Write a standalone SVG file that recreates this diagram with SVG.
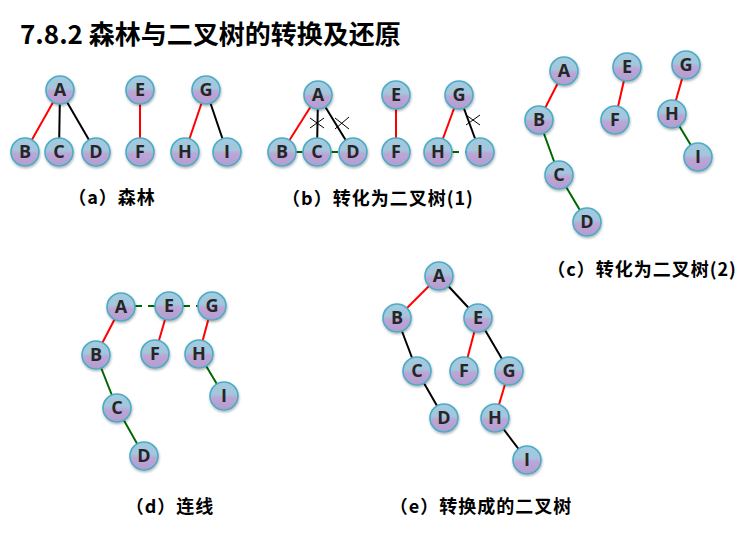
<svg xmlns="http://www.w3.org/2000/svg" width="740" height="533" viewBox="0 0 740 533">
<defs>
<linearGradient id="nf" x1="0" y1="0" x2="0" y2="1">
<stop offset="0" stop-color="#a3cbe0"/>
<stop offset="0.44" stop-color="#a3c6dc"/>
<stop offset="0.56" stop-color="#bca6d6"/>
<stop offset="1" stop-color="#b29dcf"/>
</linearGradient>
<filter id="sh" x="-30%" y="-30%" width="160%" height="170%">
<feDropShadow dx="0.5" dy="1.5" stdDeviation="1.2" flood-color="#000" flood-opacity="0.3"/>
</filter>
</defs>
<style>
.node circle{fill:url(#nf);stroke:#4bacc6;stroke-width:1.6;filter:url(#sh)}
.node text{font-family:"Open Sans","Liberation Sans",sans-serif;font-weight:bold;font-size:18px;fill:#262626;text-anchor:middle}
.r{stroke:#ff0000;stroke-width:2;fill:none}
.k{stroke:#000;stroke-width:2;fill:none}
.g{stroke:#006600;stroke-width:2;fill:none}
.gd{stroke:#006600;stroke-width:2;fill:none;stroke-dasharray:7 6}
.x{stroke:#000;stroke-width:1;fill:none}
.t{font-family:"Noto Sans CJK SC","Liberation Sans",sans-serif;font-weight:bold;fill:#000}
.lab{font-family:"Noto Sans CJK SC","Liberation Sans",sans-serif;font-weight:bold;font-size:18px;letter-spacing:1px;fill:#000;text-anchor:middle}
</style>
<rect width="740" height="533" fill="#fff"/>
<text class="t" x="20" y="44" font-size="26">7.8.2 森林与二叉树的转换及还原</text>
<g id="connectors">
<!-- (a) -->
<line class="r" x1="60" y1="90" x2="25" y2="152"/>
<line class="k" x1="60" y1="90" x2="59" y2="152"/>
<line class="k" x1="60" y1="90" x2="96" y2="152"/>
<line class="r" x1="140" y1="90" x2="140" y2="152"/>
<line class="r" x1="206" y1="90" x2="185" y2="152"/>
<line class="k" x1="206" y1="90" x2="227" y2="152"/>
<!-- (b) -->
<line class="r" x1="318" y1="95" x2="282" y2="152"/>
<line class="k" x1="318" y1="95" x2="317" y2="152"/>
<line class="k" x1="318" y1="95" x2="353" y2="152"/>
<line class="gd" x1="296" y1="152" x2="303" y2="152" stroke-dasharray="3 3"/>
<line class="gd" x1="331" y1="152" x2="339" y2="152"/>
<line class="r" x1="396" y1="95" x2="396" y2="152"/>
<line class="r" x1="459" y1="95" x2="438" y2="152"/>
<line class="k" x1="459" y1="95" x2="480" y2="152"/>
<line class="gd" x1="452" y1="152" x2="466" y2="152" stroke-dasharray="6 4"/>
<path class="x" d="M310 118 L324 128 M310 128 L324 118"/>
<path class="x" d="M335 118 L349 129 M335 129 L349 117"/>
<path class="x" d="M466 115 L480 125 M466 125 L480 115"/>
<!-- (c) -->
<line class="r" x1="564" y1="71" x2="539" y2="120"/>
<line class="g" x1="539" y1="120" x2="559" y2="175"/>
<line class="g" x1="559" y1="175" x2="587" y2="222"/>
<line class="r" x1="627" y1="67" x2="615" y2="120"/>
<line class="r" x1="686" y1="65" x2="672" y2="114"/>
<line class="g" x1="672" y1="114" x2="698" y2="157"/>
<!-- (d) -->
<line class="r" x1="121" y1="307" x2="96" y2="355"/>
<line class="g" x1="96" y1="355" x2="117" y2="408"/>
<line class="g" x1="117" y1="408" x2="144" y2="456"/>
<line class="gd" x1="135" y1="306" x2="155" y2="306"/>
<line class="gd" x1="183" y1="306" x2="198" y2="306" stroke-dasharray="6 6"/>
<line class="r" x1="169" y1="306" x2="155" y2="354"/>
<line class="r" x1="212" y1="306" x2="199" y2="354"/>
<line class="g" x1="199" y1="354" x2="224" y2="396"/>
<!-- (e) -->
<line class="r" x1="439" y1="276" x2="397" y2="318"/>
<line class="k" x1="439" y1="276" x2="478" y2="318"/>
<line class="k" x1="397" y1="318" x2="417" y2="371"/>
<line class="k" x1="417" y1="371" x2="444" y2="418"/>
<line class="r" x1="478" y1="318" x2="464" y2="371"/>
<line class="k" x1="478" y1="318" x2="509" y2="371"/>
<line class="r" x1="509" y1="371" x2="495" y2="418"/>
<line class="k" x1="495" y1="418" x2="527" y2="460"/>
</g>
<!-- (a) nodes -->
<g id="a-A" class="node"><circle cx="60" cy="90" r="14"/><text x="60" y="96">A</text></g>
<g id="a-B" class="node"><circle cx="25" cy="152" r="14"/><text x="25" y="158">B</text></g>
<g id="a-C" class="node"><circle cx="59" cy="152" r="14"/><text x="59" y="158">C</text></g>
<g id="a-D" class="node"><circle cx="96" cy="152" r="14"/><text x="96" y="158">D</text></g>
<g id="a-E" class="node"><circle cx="140" cy="90" r="14"/><text x="140" y="96">E</text></g>
<g id="a-F" class="node"><circle cx="140" cy="152" r="14"/><text x="140" y="158">F</text></g>
<g id="a-G" class="node"><circle cx="206" cy="90" r="14"/><text x="206" y="96">G</text></g>
<g id="a-H" class="node"><circle cx="185" cy="152" r="14"/><text x="185" y="158">H</text></g>
<g id="a-I" class="node"><circle cx="227" cy="152" r="14"/><text x="227" y="158">I</text></g>
<!-- (b) nodes -->
<g id="b-A" class="node"><circle cx="318" cy="95" r="14"/><text x="318" y="101">A</text></g>
<g id="b-B" class="node"><circle cx="282" cy="152" r="14"/><text x="282" y="158">B</text></g>
<g id="b-C" class="node"><circle cx="317" cy="152" r="14"/><text x="317" y="158">C</text></g>
<g id="b-D" class="node"><circle cx="353" cy="152" r="14"/><text x="353" y="158">D</text></g>
<g id="b-E" class="node"><circle cx="396" cy="95" r="14"/><text x="396" y="101">E</text></g>
<g id="b-F" class="node"><circle cx="396" cy="152" r="14"/><text x="396" y="158">F</text></g>
<g id="b-G" class="node"><circle cx="459" cy="95" r="14"/><text x="459" y="101">G</text></g>
<g id="b-H" class="node"><circle cx="438" cy="152" r="14"/><text x="438" y="158">H</text></g>
<g id="b-I" class="node"><circle cx="480" cy="152" r="14"/><text x="480" y="158">I</text></g>
<!-- (c) nodes -->
<g id="c-A" class="node"><circle cx="564" cy="71" r="14"/><text x="564" y="77">A</text></g>
<g id="c-B" class="node"><circle cx="539" cy="120" r="14"/><text x="539" y="126">B</text></g>
<g id="c-C" class="node"><circle cx="559" cy="175" r="14"/><text x="559" y="181">C</text></g>
<g id="c-D" class="node"><circle cx="587" cy="222" r="14"/><text x="587" y="228">D</text></g>
<g id="c-E" class="node"><circle cx="627" cy="67" r="14"/><text x="627" y="73">E</text></g>
<g id="c-F" class="node"><circle cx="615" cy="120" r="14"/><text x="615" y="126">F</text></g>
<g id="c-G" class="node"><circle cx="686" cy="65" r="14"/><text x="686" y="71">G</text></g>
<g id="c-H" class="node"><circle cx="672" cy="114" r="14"/><text x="672" y="120">H</text></g>
<g id="c-I" class="node"><circle cx="698" cy="157" r="14"/><text x="698" y="163">I</text></g>
<!-- (d) nodes -->
<g id="d-A" class="node"><circle cx="121" cy="307" r="14"/><text x="121" y="313">A</text></g>
<g id="d-E" class="node"><circle cx="169" cy="306" r="14"/><text x="169" y="312">E</text></g>
<g id="d-G" class="node"><circle cx="212" cy="306" r="14"/><text x="212" y="312">G</text></g>
<g id="d-B" class="node"><circle cx="96" cy="355" r="14"/><text x="96" y="361">B</text></g>
<g id="d-F" class="node"><circle cx="155" cy="354" r="14"/><text x="155" y="360">F</text></g>
<g id="d-H" class="node"><circle cx="199" cy="354" r="14"/><text x="199" y="360">H</text></g>
<g id="d-C" class="node"><circle cx="117" cy="408" r="14"/><text x="117" y="414">C</text></g>
<g id="d-D" class="node"><circle cx="144" cy="456" r="14"/><text x="144" y="462">D</text></g>
<g id="d-I" class="node"><circle cx="224" cy="396" r="14"/><text x="224" y="402">I</text></g>
<!-- (e) nodes -->
<g id="e-A" class="node"><circle cx="439" cy="276" r="14"/><text x="439" y="282">A</text></g>
<g id="e-B" class="node"><circle cx="397" cy="318" r="14"/><text x="397" y="324">B</text></g>
<g id="e-E" class="node"><circle cx="478" cy="318" r="14"/><text x="478" y="324">E</text></g>
<g id="e-C" class="node"><circle cx="417" cy="371" r="14"/><text x="417" y="377">C</text></g>
<g id="e-F" class="node"><circle cx="464" cy="371" r="14"/><text x="464" y="377">F</text></g>
<g id="e-G" class="node"><circle cx="509" cy="371" r="14"/><text x="509" y="377">G</text></g>
<g id="e-D" class="node"><circle cx="444" cy="418" r="14"/><text x="444" y="424">D</text></g>
<g id="e-H" class="node"><circle cx="495" cy="418" r="14"/><text x="495" y="424">H</text></g>
<g id="e-I" class="node"><circle cx="527" cy="460" r="14"/><text x="527" y="466">I</text></g>
<!-- captions -->
<text class="lab" x="112" y="204">（a）森林</text>
<text class="lab" x="378" y="205">（b）转化为二叉树(1)</text>
<text class="lab" x="642" y="276">（c）转化为二叉树(2)</text>
<text class="lab" x="170" y="513">（d）连线</text>
<text class="lab" x="481" y="513">（e）转换成的二叉树</text>
</svg>
